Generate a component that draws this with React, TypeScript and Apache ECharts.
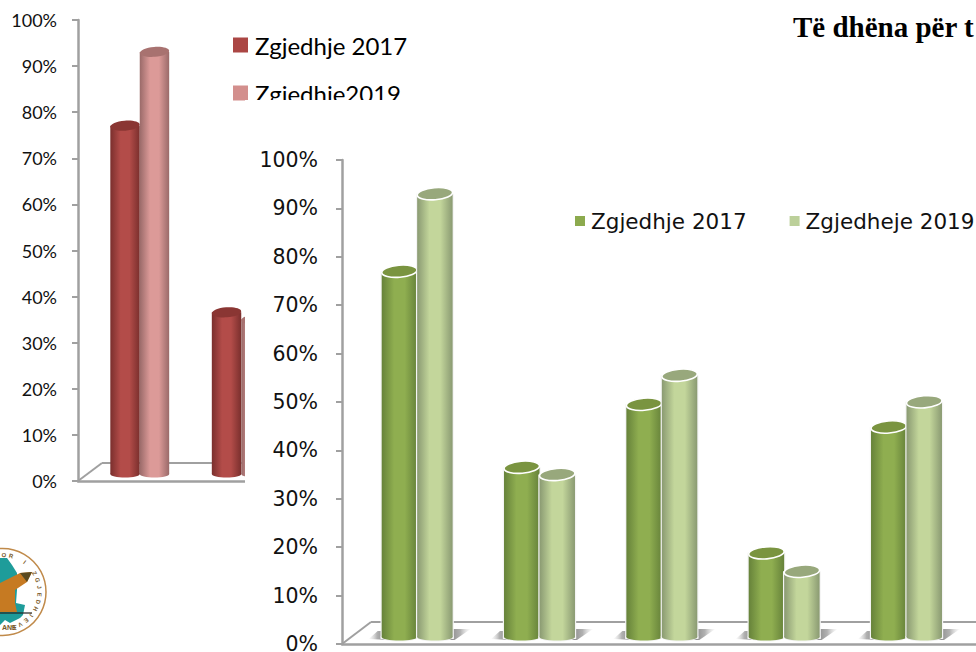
import React, { useEffect, useRef } from "react";
import * as echarts from "echarts";

const categories = ["A", "B", "C", "D", "E", "F"];
const values2017 = [76, 35.5, 48.5, 17.8, 43.8];
const values2019 = [92, 34, 54.5, 14, 49];
const nameA = "Zgjedhje 2017";
const nameLeftB = "Zgjedhje2019";
const nameRightB = "Zgjedheje 2019";
const titleText = "Të dhëna për t";
const logoRing = "OR I ZGJEDHJEVE.";
const logoBottom = "ANE";

const grad = (a: string, b: string) =>
  new echarts.graphic.LinearGradient(0, 0, 1, 0, [
    { offset: 0, color: a },
    { offset: 0.35, color: b },
    { offset: 0.65, color: b },
    { offset: 1, color: a },
  ]);

const cyl = (
  side: number,
  dx: number,
  lift: number,
  edge: string,
  mid: string,
  top: string,
  white: boolean
) => (params: any, api: any) => {
  const i = api.value(0);
  const [cx] = api.coord([i, 0]);
  const band = api.size([1, 0])[0];
  const w = band * 0.29;
  const base = api.coord([i, 0])[1] - lift;
  const y = api.coord([i, api.value(1)])[1] - lift;
  const x0 = cx + dx + (side < 0 ? -w : 0);
  const x1 = x0 + w;
  const mx = (x0 + x1) / 2;
  const ry = w * 0.17;
  const children: any[] = [];
  if (white) {
    const wing =
      side > 0
        ? [[x1 - 8, base - 10], [x1 + 18, base - 10], [x1 + 2, base + 1], [x1 - 8, base + 1]]
        : [[x0 - 13, base], [x0 - 4, base - 8], [x0 + 8, base - 8], [x0 + 8, base + 1]];
    children.push({
      type: "polygon",
      shape: { points: wing },
      style: {
        fill: new echarts.graphic.LinearGradient(side > 0 ? 0 : 1, 0, side > 0 ? 1 : 0, 0, [
          { offset: 0, color: "rgba(95,95,95,0.9)" },
          { offset: 0.6, color: "rgba(135,135,135,0.65)" },
          { offset: 1, color: "rgba(200,200,200,0.05)" },
        ]),
      },
    });
    children.push({
      type: "rect",
      shape: { x: x0 - 1.2, y, width: w + 2.4, height: base - y },
      style: { fill: "#f4f4f4" },
    });
    children.push({
      type: "ellipse",
      shape: { cx: mx, cy: base - 2, rx: w / 2 + 1.2, ry: 4.5 },
      style: { fill: "#f4f4f4" },
    });
  }
  children.push({
    type: "ellipse",
    shape: { cx: mx, cy: base - 2, rx: w / 2, ry: 3.6 },
    style: { fill: grad(edge, mid) },
  });
  children.push({
    type: "rect",
    shape: { x: x0, y, width: w, height: base - y - 2 },
    style: { fill: grad(edge, mid) },
  });
  children.push({
    type: "ellipse",
    x: mx,
    y,
    rotation: 0.08,
    shape: { cx: 0, cy: 0, rx: w / 2, ry },
    style: white
      ? { fill: top, stroke: "#ffffff", lineWidth: 1.6 }
      : { fill: top },
  });
  return { type: "group", children };
};

const pairs = (vals: number[]) => vals.map((v, i) => [i, v]);

const yAxisBase = (gridIndex: number, font: any, z: number) => ({
  type: "value",
  gridIndex,
  min: 0,
  max: 100,
  interval: 10,
  z,
  splitLine: { show: false },
  axisLine: { show: true, lineStyle: { color: "#a0a0a0", width: 2.5 } },
  axisTick: { show: true, length: 6, lineStyle: { color: "#a0a0a0", width: 2 } },
  axisLabel: { formatter: "{value}%", color: "#111", ...font },
});

const xAxisBase = (gridIndex: number, z: number) => ({
  type: "category",
  gridIndex,
  data: categories,
  z,
  axisLine: { show: true, lineStyle: { color: "#a0a0a0", width: 2.5 } },
  axisTick: { show: false },
  axisLabel: { show: false },
});

const ringLetters = () => {
  const chars = logoRing.split("");
  const r = 37;
  return chars.map((c, k) => {
    const deg = -88 + k * 11.5;
    const a = (deg * Math.PI) / 180;
    return {
      type: "text",
      z: 9,
      x: 2.5 + r * Math.cos(a),
      y: 592 + r * Math.sin(a),
      rotation: -(a + Math.PI / 2),
      style: {
        text: c,
        fontSize: 6,
        fontWeight: "bold",
        fontFamily: "Liberation Sans",
        fill: "#7a5a2a",
        align: "center",
        verticalAlign: "middle",
      },
    };
  });
};

export default function App() {
  const ref = useRef<HTMLDivElement>(null);
  useEffect(() => {
    document.body.style.margin = "0";
    const chart = echarts.init(ref.current!, undefined, { renderer: "svg" });
    const leftFont = { fontFamily: "Lato", fontSize: 18, margin: 21 };
    const rightFont = { fontFamily: "DejaVu Sans", fontSize: 20.5, margin: 24, padding: [4, 0, 0, 0] };
    chart.setOption({
      animation: false,
      backgroundColor: "#ffffff",
      title: {
        text: titleText,
        left: 793,
        top: 12,
        padding: 0,
        z: 8,
        textStyle: { fontFamily: "Liberation Serif", fontWeight: "bold", fontSize: 29, color: "#000" },
      },
      grid: [
        { left: 78, top: 20, width: 609, height: 461, outerBoundsMode: "none" },
        { left: 342, top: 160, width: 734, height: 484, outerBoundsMode: "none" },
      ],
      xAxis: [xAxisBase(0, 1), xAxisBase(1, 5)],
      yAxis: [yAxisBase(0, leftFont, 1), yAxisBase(1, rightFont, 5)],
      legend: [
        {
          orient: "vertical",
          left: 233,
          top: 32,
          padding: 0,
          itemWidth: 15,
          itemHeight: 15,
          itemGap: 22,
          icon: "rect",
          z: 2,
          selectedMode: false,
          textStyle: { fontFamily: "Lato", fontSize: 24, lineHeight: 26, color: "#000", padding: [0, 0, 0, 2] },
          data: [
            { name: nameA, itemStyle: { color: "#ab4644" } },
            { name: nameLeftB, itemStyle: { color: "#d38f8d" } },
          ],
        },
        {
          orient: "horizontal",
          left: 575,
          top: 209,
          padding: 0,
          width: 420,
          itemWidth: 10,
          itemHeight: 10,
          itemGap: 43,
          icon: "rect",
          z: 7,
          selectedMode: false,
          textStyle: { fontFamily: "DejaVu Sans", fontSize: 21.5, lineHeight: 24, color: "#111", padding: [0, 0, 0, 1] },
          data: [
            { name: nameA, itemStyle: { color: "#8caa4e" } },
            { name: nameRightB, itemStyle: { color: "#bcd09a" } },
          ],
        },
      ],
      graphic: [
        { type: "line", z: 1, shape: { x1: 78, y1: 481, x2: 102, y2: 463 }, style: { stroke: "#a0a0a0", lineWidth: 2 } },
        { type: "line", z: 1, shape: { x1: 102, y1: 463, x2: 245, y2: 463 }, style: { stroke: "#a0a0a0", lineWidth: 2 } },
        { type: "rect", z: 3, shape: { x: 245, y: 100, width: 731, height: 552 }, style: { fill: "#ffffff" } },
        { type: "line", z: 4, shape: { x1: 342, y1: 644, x2: 371, y2: 622 }, style: { stroke: "#a0a0a0", lineWidth: 2 } },
        { type: "line", z: 4, shape: { x1: 371, y1: 622, x2: 976, y2: 622 }, style: { stroke: "#a0a0a0", lineWidth: 2 } },
        { type: "circle", z: 8, shape: { cx: 2.5, cy: 592, r: 43.5 }, style: { fill: "#ffffff", stroke: "#c08a4a", lineWidth: 1.5 } },
        {
          type: "polygon", z: 8,
          shape: { points: [[0, 558], [7, 558], [12, 565], [17, 573], [17, 590], [16, 603], [25, 605], [23, 615], [20, 618], [10, 623], [5, 620], [0, 625]] },
          style: { fill: "#1e9c9a" },
        },
        {
          type: "polygon", z: 9,
          shape: { points: [[0, 583], [10, 578], [20, 573], [32, 572], [27, 582], [15, 590], [15, 603], [17, 612], [0, 612]] },
          style: { fill: "#c67a22" },
        },
        {
          type: "polygon", z: 9,
          shape: { points: [[20, 573], [32, 572], [27, 582]] },
          style: { fill: "#5a4a20" },
        },
        { type: "line", z: 9, shape: { x1: 0, y1: 613, x2: 32, y2: 613 }, style: { stroke: "#222", lineWidth: 1.2 } },
        ...ringLetters(),
        { type: "text", z: 9, x: 2, y: 624, style: { text: logoBottom, fontSize: 7, fontWeight: "bold", fontFamily: "Liberation Sans", fill: "#7a5a2a" } },
      ],
      series: [
        {
          type: "custom", name: nameA, xAxisIndex: 0, yAxisIndex: 0, z: 2, encode: { x: 0, y: 1 },
          data: pairs(values2017),
          itemStyle: { color: "#ab4644" },
          renderItem: cyl(-1, 11, 5, "#7a2f2d", "#b34c49", "#8a3633", false),
        },
        {
          type: "custom", name: nameLeftB, xAxisIndex: 0, yAxisIndex: 0, z: 2, encode: { x: 0, y: 1 },
          data: pairs(values2019),
          itemStyle: { color: "#d38f8d" },
          renderItem: cyl(1, 11, 5, "#9a6a69", "#dc9a98", "#a87270", false),
        },
        {
          type: "custom", name: nameA, xAxisIndex: 1, yAxisIndex: 1, z: 6, encode: { x: 0, y: 1 },
          data: pairs(values2017),
          itemStyle: { color: "#8caa4e" },
          renderItem: cyl(-1, 14, 5, "#66823a", "#8fae50", "#7a9440", true),
        },
        {
          type: "custom", name: nameRightB, xAxisIndex: 1, yAxisIndex: 1, z: 6, encode: { x: 0, y: 1 },
          data: pairs(values2019),
          itemStyle: { color: "#bcd09a" },
          renderItem: cyl(1, 14, 5, "#8a9a72", "#c3d69b", "#98a87c", true),
        },
      ],
    });
    return () => chart.dispose();
  }, []);
  return (
    <div
      ref={ref}
      style={{ position: "absolute", left: 0, top: 0, width: 976, height: 652, overflow: "hidden" }}
    />
  );
}
